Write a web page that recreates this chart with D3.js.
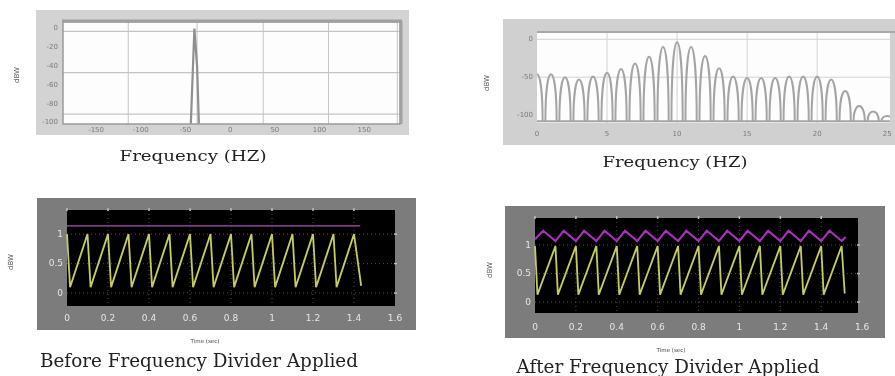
<!DOCTYPE html>
<html>
<head>
<meta charset="utf-8">
<script src="https://cdn.jsdelivr.net/npm/d3@7/dist/d3.min.js"></script>
<style>
  body { margin: 0; background: #ffffff; }
  svg { display: block; }
</style>
</head>
<body>
<div id="chart"></div>
<script>
// ---- data ----

// top left: spectrum before the divider, one narrow spike
var spikeHz = [-44, -40, -37, -35];
var spikeDb = [-101, 0, -40, -101];
var spec1XTicks = [-150, -100, -50, 0, 50, 100, 150];
var spec1YTicks = [0, -20, -40, -60, -80, -100];
var spec1GridX = [-114, -37, 37, 110, 187];
var spec1GridY = [-3, -47, -91];

// top right: spectrum after the divider, one hump per harmonic
var humpHz = [0, 1, 2, 3, 4, 5, 6, 7, 8, 9, 10, 11, 12, 13, 14, 15, 16, 17, 18, 19, 20, 21, 22, 23, 24, 25];
var humpDb = [-46, -46, -50, -53, -49, -44, -39, -32, -23, -10, -4, -10, -22, -38, -49, -51, -51, -51, -49, -49, -49, -53, -68, -88, -95, -101];
var gapHz = [-0.5, 0.5, 1.5, 2.5, 3.5, 4.5, 5.5, 6.5, 7.5, 8.5, 9.5, 10.5, 11.5, 12.5, 13.5, 14.5, 15.5, 16.5, 17.5, 18.5, 19.5, 20.5, 21.5, 22.5, 23.5, 24.5, 25.5];
var floorDb = -108;
var spec2XTicks = [0, 5, 10, 15, 20, 25];
var spec2YTicks = [0, -50, -100];

// bottom: time signals (sec, value)
var beforeSaw = [[0, 1], [0.015, 0.1], [0.1, 1], [0.115, 0.1], [0.2, 1], [0.215, 0.1], [0.3, 1], [0.315, 0.1],
  [0.4, 1], [0.415, 0.1], [0.5, 1], [0.515, 0.1], [0.6, 1], [0.615, 0.1], [0.7, 1], [0.715, 0.1],
  [0.8, 1], [0.815, 0.1], [0.9, 1], [0.915, 0.1], [1.0, 1], [1.015, 0.1], [1.1, 1], [1.115, 0.1],
  [1.2, 1], [1.215, 0.1], [1.3, 1], [1.315, 0.1], [1.4, 1], [1.435, 0.12]];
var beforeRef = [[0, 1.14], [1.43, 1.14]];

var afterSaw = [[0, 0.98], [0.012, 0.13], [0.1, 0.98], [0.112, 0.13], [0.2, 0.98], [0.212, 0.13], [0.3, 0.98], [0.312, 0.13],
  [0.4, 0.98], [0.412, 0.13], [0.5, 0.98], [0.512, 0.13], [0.6, 0.98], [0.612, 0.13], [0.7, 0.98], [0.712, 0.13],
  [0.8, 0.98], [0.812, 0.13], [0.9, 0.98], [0.912, 0.13], [1.0, 0.98], [1.012, 0.13], [1.1, 0.98], [1.112, 0.13],
  [1.2, 0.98], [1.212, 0.13], [1.3, 0.98], [1.312, 0.13], [1.4, 0.98], [1.412, 0.13], [1.5, 0.98], [1.515, 0.15]];
var afterRef = [[0, 1.1], [0.04, 1.25], [0.1, 1.07], [0.14, 1.25], [0.2, 1.07], [0.24, 1.25], [0.3, 1.07], [0.34, 1.25],
  [0.4, 1.07], [0.44, 1.25], [0.5, 1.07], [0.54, 1.25], [0.6, 1.07], [0.64, 1.25], [0.7, 1.07], [0.74, 1.25],
  [0.8, 1.07], [0.84, 1.25], [0.9, 1.07], [0.94, 1.25], [1.0, 1.07], [1.04, 1.25], [1.1, 1.07], [1.14, 1.25],
  [1.2, 1.07], [1.24, 1.25], [1.3, 1.07], [1.34, 1.25], [1.4, 1.07], [1.44, 1.25], [1.5, 1.07], [1.52, 1.14]];
var timeXTicks = [0, 0.2, 0.4, 0.6, 0.8, 1, 1.2, 1.4, 1.6];
var timeYTicks = [0, 0.5, 1];

// ---- svg ----
var svg = d3.select("#chart")
  .append("svg")
  .attr("width", 895)
  .attr("height", 376);

var defs = svg.append("defs");

// the source is a blurry scan, soften everything a little
defs.append("filter")
  .attr("id", "soft")
  .append("feGaussianBlur")
  .attr("stdDeviation", 0.45);

var root = svg.append("g").attr("filter", "url(#soft)");

var tickFont = "DejaVu Sans, sans-serif";
var capFont = "DejaVu Serif, Liberation Serif, serif";

function fmt(v) {
  return String(v);
}

// x tick labels under a plot
function xLabels(g, scale, ticks, y, size, color) {
  g.append("g").selectAll("text")
    .data(ticks)
    .enter()
    .append("text")
    .attr("x", d => scale(d))
    .attr("y", y)
    .attr("text-anchor", "middle")
    .attr("dominant-baseline", "middle")
    .style("font-family", tickFont)
    .style("font-size", size + "px")
    .style("fill", color)
    .text(fmt);
}

// y tick labels left of a plot
function yLabels(g, scale, ticks, x, size, color) {
  g.append("g").selectAll("text")
    .data(ticks)
    .enter()
    .append("text")
    .attr("x", x)
    .attr("y", d => scale(d))
    .attr("text-anchor", "end")
    .attr("dominant-baseline", "middle")
    .style("font-family", tickFont)
    .style("font-size", size + "px")
    .style("fill", color)
    .text(fmt);
}

function yTitle(g, x, y, color) {
  g.append("text")
    .attr("transform", `translate(${x}, ${y}) rotate(-90)`)
    .attr("text-anchor", "middle")
    .attr("dominant-baseline", "middle")
    .style("font-family", tickFont)
    .style("font-size", "7px")
    .style("fill", color)
    .text("dBW");
}

function caption(g, text, cx, y, size, len) {
  g.append("text")
    .attr("x", cx - len / 2)
    .attr("y", y)
    .attr("textLength", len)
    .attr("lengthAdjust", "spacingAndGlyphs")
    .style("font-family", capFont)
    .style("font-size", size + "px")
    .style("fill", "#222")
    .text(text);
}

// ================= top left =================
var p1 = root.append("g");
var x1 = d3.scaleLinear().domain([-187, 190]).range([63, 400]);
var y1 = d3.scaleLinear().domain([-101.6, 7]).range([124, 22]);

p1.append("rect").attr("x", 36).attr("y", 10).attr("width", 373).attr("height", 125).attr("fill", "#d3d3d3");
p1.append("rect").attr("x", 63).attr("y", 22).attr("width", 337).attr("height", 102).attr("fill", "#fdfdfd");

// grid
p1.append("g").selectAll("line")
  .data(spec1GridX)
  .enter()
  .append("line")
  .attr("x1", d => x1(d)).attr("x2", d => x1(d))
  .attr("y1", 22).attr("y2", 124)
  .attr("stroke", "#c4c4c4").attr("stroke-width", 1);
p1.append("g").selectAll("line")
  .data(spec1GridY)
  .enter()
  .append("line")
  .attr("x1", 63).attr("x2", 400)
  .attr("y1", d => y1(d)).attr("y2", d => y1(d))
  .attr("stroke", "#c4c4c4").attr("stroke-width", 1.2);

// frame, heavy on top and right like the scan
p1.append("rect").attr("x", 63).attr("y", 22).attr("width", 337).attr("height", 102)
  .attr("fill", "none").attr("stroke", "#9a9a9a").attr("stroke-width", 1.5);
p1.append("line").attr("x1", 62).attr("x2", 402).attr("y1", 21).attr("y2", 21)
  .attr("stroke", "#a0a0a0").attr("stroke-width", 3);
p1.append("line").attr("x1", 401).attr("x2", 401).attr("y1", 21).attr("y2", 124)
  .attr("stroke", "#a0a0a0").attr("stroke-width", 3);

var spikeLine = d3.line()
  .x((d, i) => x1(spikeHz[i]))
  .y(d => y1(d));
p1.append("path")
  .attr("d", spikeLine(spikeDb))
  .attr("fill", "none")
  .attr("stroke", "#8f8f8f")
  .attr("stroke-width", 2.2);

xLabels(p1, x1, spec1XTicks, 130, 7, "#7a7a7a");
yLabels(p1, y1, spec1YTicks, 58, 7, "#7a7a7a");
yTitle(p1, 17, 75, "#555");
caption(p1, "Frequency (HZ)", 193, 161, 15, 147);

// ================= top right =================
var p2 = root.append("g");
var x2 = d3.scaleLinear().domain([0, 25.2]).range([537, 890]);
var y2 = d3.scaleLinear().domain([-110.3, 8.3]).range([123, 33]);

p2.append("rect").attr("x", 503).attr("y", 19).attr("width", 392).attr("height", 126).attr("fill", "#d0d0d0");
p2.append("rect").attr("x", 537).attr("y", 33).attr("width", 353).attr("height", 90).attr("fill", "#fdfdfd");

p2.append("g").selectAll("line")
  .data(spec2XTicks.slice(1, -1))
  .enter()
  .append("line")
  .attr("x1", d => x2(d)).attr("x2", d => x2(d))
  .attr("y1", 33).attr("y2", 123)
  .attr("stroke", "#d2d2d2");
p2.append("g").selectAll("line")
  .data([0, -50])
  .enter()
  .append("line")
  .attr("x1", 537).attr("x2", 890)
  .attr("y1", d => y2(d)).attr("y2", d => y2(d))
  .attr("stroke", "#d2d2d2");
p2.append("line").attr("x1", 537).attr("x2", 895).attr("y1", 32).attr("y2", 32)
  .attr("stroke", "#a8a8a8").attr("stroke-width", 2);

defs.append("clipPath").attr("id", "clip2")
  .append("rect").attr("x", 537).attr("y", 30).attr("width", 353).attr("height", 95);

// one arch per harmonic: straight-ish sides near the gaps and a round top
function archPath(i) {
  var xl = x2(gapHz[i] + 0.1);
  var xr = x2(gapHz[i + 1] - 0.1);
  var yb = y2(floorDb);
  var yc = yb + (y2(humpDb[i]) - yb) / 0.75; // bezier reaches 3/4 of its control height
  var p = d3.path();
  p.moveTo(xl, yb);
  p.bezierCurveTo(xl, yc, xr, yc, xr, yb);
  return p.toString();
}

p2.append("g")
  .attr("clip-path", "url(#clip2)")
  .selectAll("path")
  .data(humpHz)
  .enter()
  .append("path")
  .attr("d", (d, i) => archPath(i))
  .attr("fill", "none")
  .attr("stroke", "#a4a4a4")
  .attr("stroke-width", 2);

// flat floor between the arches
p2.append("line").attr("x1", 537).attr("x2", 890).attr("y1", y2(floorDb)).attr("y2", y2(floorDb))
  .attr("stroke", "#a4a4a4").attr("stroke-width", 2);

xLabels(p2, x2, spec2XTicks, 134, 7, "#7a7a7a");
yLabels(p2, y2, spec2YTicks, 533, 7, "#7a7a7a");
yTitle(p2, 487, 83, "#555");
caption(p2, "Frequency (HZ)", 675, 167, 15, 145);

// ================= bottom panels =================
function scopePanel(opt) {
  var g = root.append("g");
  var x = d3.scaleLinear().domain(opt.xDomain).range([opt.inner[0], opt.inner[2]]);
  var y = d3.scaleLinear().domain(opt.yDomain).range([opt.inner[3], opt.inner[1]]);

  g.append("rect")
    .attr("x", opt.outer[0]).attr("y", opt.outer[1])
    .attr("width", opt.outer[2] - opt.outer[0]).attr("height", opt.outer[3] - opt.outer[1])
    .attr("fill", "#7c7c7c");
  g.append("rect")
    .attr("x", opt.inner[0]).attr("y", opt.inner[1])
    .attr("width", opt.inner[2] - opt.inner[0]).attr("height", opt.inner[3] - opt.inner[1])
    .attr("fill", "#030303");

  // dotted grid
  g.append("g").selectAll("line")
    .data(timeXTicks.filter(d => x(d) > opt.inner[0] + 2 && x(d) < opt.inner[2] - 2))
    .enter()
    .append("line")
    .attr("x1", d => x(d)).attr("x2", d => x(d))
    .attr("y1", opt.inner[1]).attr("y2", opt.inner[3])
    .attr("stroke", "#4a4a4a").attr("stroke-dasharray", "1,3");
  g.append("g").selectAll("line")
    .data(timeYTicks)
    .enter()
    .append("line")
    .attr("x1", opt.inner[0]).attr("x2", opt.inner[2])
    .attr("y1", d => y(d)).attr("y2", d => y(d))
    .attr("stroke", "#4a4a4a").attr("stroke-dasharray", "1,3");

  // small light ticks on the frame
  g.append("g").selectAll("line")
    .data(timeXTicks.filter(d => x(d) < opt.inner[2] - 2))
    .enter()
    .append("line")
    .attr("x1", d => x(d)).attr("x2", d => x(d))
    .attr("y1", opt.inner[1] - 2).attr("y2", opt.inner[1] + 1)
    .attr("stroke", "#bdbdbd").attr("stroke-width", 1.5);
  g.append("g").selectAll("line")
    .data(timeYTicks)
    .enter()
    .append("line")
    .attr("x1", opt.inner[2] - 1).attr("x2", opt.inner[2] + 2)
    .attr("y1", d => y(d)).attr("y2", d => y(d))
    .attr("stroke", "#bdbdbd").attr("stroke-width", 1.5);

  var line = d3.line().x(d => x(d[0])).y(d => y(d[1]));

  g.append("path")
    .attr("d", line(opt.ref))
    .attr("fill", "none")
    .attr("stroke", opt.refColor)
    .attr("stroke-width", opt.refWidth);
  g.append("path")
    .attr("d", line(opt.saw))
    .attr("fill", "none")
    .attr("stroke", "#c6cc5e")
    .attr("stroke-width", 1.8);

  xLabels(g, x, timeXTicks, opt.xLabelY, 9, "#e6e6e6");
  yLabels(g, y, timeYTicks, opt.yLabelX, 9, "#e6e6e6");
  yTitle(g, opt.yTitle[0], opt.yTitle[1], "#555");

  g.append("text")
    .attr("x", opt.timeLabel[0])
    .attr("y", opt.timeLabel[1])
    .attr("text-anchor", "middle")
    .style("font-family", tickFont)
    .style("font-size", "5.5px")
    .style("fill", "#444")
    .text("Time (sec)");

  caption(g, opt.title, opt.titlePos[0], opt.titlePos[1], 18, opt.titlePos[2]);
}

scopePanel({
  outer: [37, 198, 416, 330],
  inner: [67, 210, 395, 306],
  xDomain: [0, 1.6],
  yDomain: [-0.22, 1.41],
  saw: beforeSaw,
  ref: beforeRef,
  refColor: "#7d3a82",
  refWidth: 1.6,
  xLabelY: 318,
  yLabelX: 63,
  yTitle: [11, 262],
  timeLabel: [205, 343],
  title: "Before Frequency Divider Applied",
  titlePos: [199, 367, 318]
});

scopePanel({
  outer: [505, 206, 885, 338],
  inner: [535, 218, 858, 313],
  xDomain: [0, 1.58],
  yDomain: [-0.193, 1.474],
  saw: afterSaw,
  ref: afterRef,
  refColor: "#b02fc2",
  refWidth: 2,
  xLabelY: 327,
  yLabelX: 531,
  yTitle: [490, 270],
  timeLabel: [671, 352],
  title: "After Frequency Divider Applied",
  titlePos: [668, 373, 303]
});
</script>
</body>
</html>
